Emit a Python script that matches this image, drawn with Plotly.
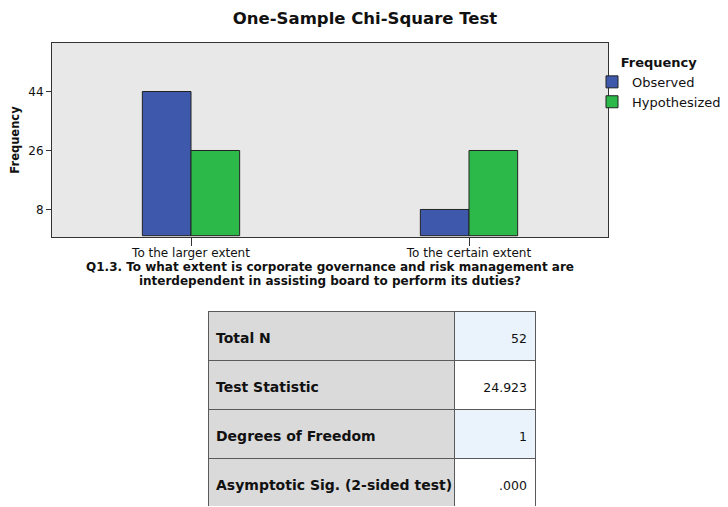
import plotly.graph_objects as go

# 数据
categories = ["To the larger extent", "To the certain extent"]
observed = [44, 8]
hypothesized = [26, 26]
y_ticks = [8, 26, 44]

stat_labels = ["Total N", "Test Statistic", "Degrees of Freedom", "Asymptotic Sig. (2-sided test)"]
stat_values = ["52", "24.923", "1", ".000"]

# 页面 body 有 8px 边距，图本身缩小 8px
OFF = 8
W, H = 728 - OFF, 507 - OFF
FONT = "DejaVu Sans, Arial, sans-serif"


def px_x(p):
    return (p - OFF) / W


def px_y(p):
    return 1 - (p - OFF) / H


def cell_text(s, bold=False):
    # 先放一行空白，把文字压到单元格中间
    size = "14px" if bold else "12.5px"
    s = "<b>" + s + "</b>" if bold else s
    return "\u00a0<br><span style='font-size:" + size + "'>" + s + "</span>"


fig = go.Figure()

fig.add_trace(
    go.Bar(
        x=categories,
        y=observed,
        name="Observed",
        marker=dict(color="#3e58ac", line=dict(color="#222222", width=1)),
    )
)
fig.add_trace(
    go.Bar(
        x=categories,
        y=hypothesized,
        name="Hypothesized",
        marker=dict(color="#2db84a", line=dict(color="#222222", width=1)),
    )
)

# 统计表 (第一行作表头)
fig.add_trace(
    go.Table(
        domain=dict(x=[px_x(208), px_x(536)], y=[0, px_y(311)]),
        columnwidth=[247, 81],
        header=dict(
            values=[cell_text(stat_labels[0], True), cell_text(stat_values[0])],
            fill_color=["#dadada", "#eaf3fc"],
            line=dict(color="#5a5a5a", width=1),
            align=["left", "right"],
            font=dict(family=FONT, size=11, color="#111111"),
            height=49,
        ),
        cells=dict(
            values=[
                [cell_text(s, True) for s in stat_labels[1:]],
                [cell_text(s) for s in stat_values[1:]],
            ],
            fill_color=[
                ["#dadada"] * 3,
                ["#ffffff", "#eaf3fc", "#ffffff"],
            ],
            line=dict(color="#5a5a5a", width=1),
            align=["left", "right"],
            font=dict(family=FONT, size=11, color="#111111"),
            height=49,
        ),
    )
)

fig.update_layout(
    width=W,
    height=H,
    margin=dict(l=0, r=0, t=0, b=0, autoexpand=False),
    paper_bgcolor="white",
    plot_bgcolor="#e8e8e8",
    font=dict(family=FONT, size=11, color="#222222"),
    barmode="group",
    bargap=0.65,
    bargroupgap=0,
    title=dict(
        text="<b>One-Sample Chi-Square Test</b>",
        x=px_x(365),
        xanchor="center",
        y=px_y(18),
        yanchor="middle",
        font=dict(size=16.5, color="#111111"),
    ),
    legend=dict(
        x=px_x(592),
        y=px_y(50),
        xanchor="left",
        yanchor="top",
        bgcolor="rgba(0,0,0,0)",
        title=dict(text="<b>Frequency</b>", side="top center", font=dict(size=13)),
        font=dict(size=13, color="#111111"),
        tracegroupgap=0,
    ),
)

fig.update_xaxes(
    domain=[px_x(52), px_x(608)],
    automargin=False,
    showline=True,
    mirror=True,
    linecolor="#333333",
    linewidth=1,
    ticks="outside",
    ticklen=8,
    tickcolor="#333333",
    ticklabelstandoff=-3,
    tickfont=dict(size=12, color="#111111"),
    title=dict(
        text="<span style='font-size:12px'><b>Q1.3. To what extent is corporate governance and risk management are</b></span><br>"
        "<span style='font-size:12px'><b>interdependent in assisting board to perform its duties?</b></span>",
        font=dict(size=10.5, color="#111111"),
        standoff=1,
    ),
)
fig.update_yaxes(
    domain=[px_y(237), px_y(43)],
    automargin=False,
    range=[-0.4, 58.8],
    tickvals=y_ticks,
    showgrid=False,
    zeroline=False,
    showline=True,
    mirror=True,
    linecolor="#333333",
    linewidth=1,
    ticks="outside",
    ticklen=5,
    tickcolor="#333333",
    tickfont=dict(size=12, color="#111111"),
    title=dict(text="<b>Frequency</b>", font=dict(size=11.5, color="#111111"), standoff=6),
)

fig.write_html("out.html")
